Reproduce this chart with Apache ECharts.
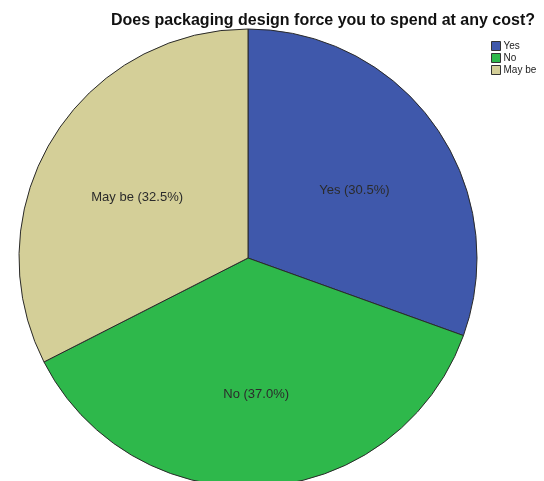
<!DOCTYPE html>
<html>
<head>
<meta charset="utf-8">
<script src="https://cdn.jsdelivr.net/npm/echarts@6/dist/echarts.min.js"></script>
<style>
  html, body { margin: 0; padding: 0; background: #fff; }
  #chart { width: 544px; height: 481px; }
</style>
</head>
<body>
<div id="chart"></div>
<script>
// Survey answers and their shares (%)
const categories = ['Yes', 'No', 'May be'];
const shares = [30.5, 37.0, 32.5];
const colors = ['#3F58AB', '#2EB84B', '#D4CF98'];
const titleText = 'Does packaging design force you to spend at any cost?';

const sliceData = categories.map((name, i) => ({
  name: name,
  value: shares[i],
  itemStyle: { color: colors[i] }
}));

const center = [248, 258];
const outerR = 229;

const chart = echarts.init(document.getElementById('chart'), null, { renderer: 'canvas' });
chart.setOption({
  animation: false,
  backgroundColor: '#ffffff',
  title: {
    text: titleText,
    right: 4,
    top: 8,
    textStyle: {
      fontFamily: 'Liberation Sans, Arial, sans-serif',
      fontWeight: 'bold',
      fontSize: 16,
      color: '#111'
    }
  },
  legend: {
    orient: 'vertical',
    left: 486,
    top: 36,
    itemWidth: 9,
    itemHeight: 9,
    itemGap: 2,
    icon: 'rect',
    selectedMode: false,
    data: categories,
    itemStyle: { borderColor: '#333', borderWidth: 1 },
    textStyle: {
      fontFamily: 'Liberation Sans, Arial, sans-serif',
      fontSize: 10,
      color: '#222',
      padding: [0, 0, 0, -2]
    }
  },
  series: [
    {
      type: 'pie',
      center: center,
      radius: [0, outerR],
      startAngle: 90,
      clockwise: true,
      label: { show: false },
      labelLine: { show: false },
      itemStyle: { borderColor: '#2a2a2a', borderWidth: 1 },
      emphasis: { disabled: true },
      data: sliceData
    },
    {
      // label layer: same slices, invisible, sized so labels sit a bit beyond mid-radius
      type: 'pie',
      center: [248, 265],
      radius: [0, 254],
      startAngle: 90,
      clockwise: true,
      silent: true,
      legendHoverLink: false,
      itemStyle: { color: 'rgba(0,0,0,0)', borderWidth: 0 },
      label: {
        show: true,
        position: 'inside',
        formatter: p => p.name + ' (' + p.value.toFixed(1) + '%)',
        fontFamily: 'Liberation Sans, Arial, sans-serif',
        fontSize: 13,
        color: '#2b2b2b'
      },
      labelLine: { show: false },
      emphasis: { disabled: true },
      data: categories.map((name, i) => ({ name: name, value: shares[i] }))
    }
  ]
});
</script>
</body>
</html>
